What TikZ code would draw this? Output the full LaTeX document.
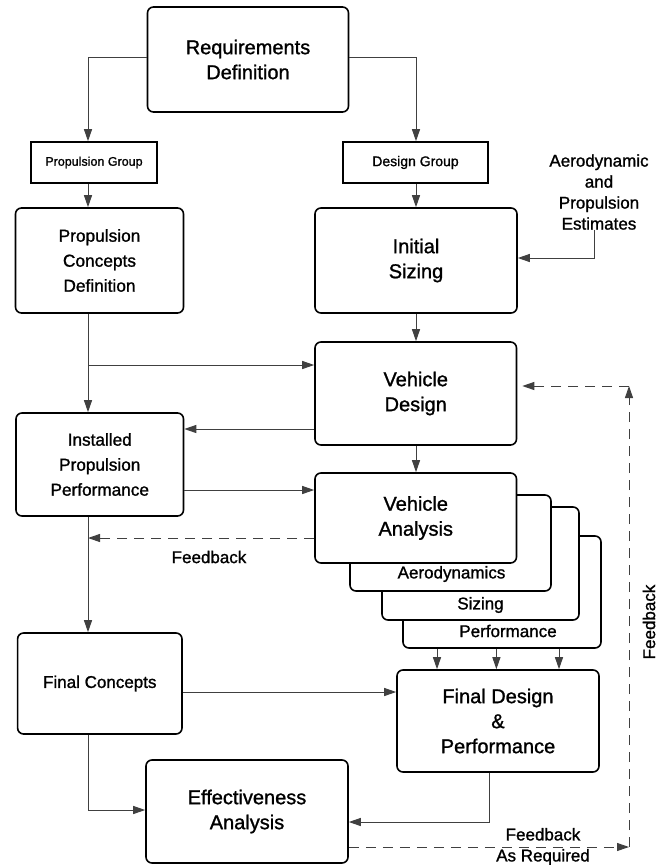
\documentclass[tikz,border=0pt]{standalone}
\usepackage{fontspec}
\setmainfont{Liberation Sans}[BoldFont=Liberation Sans, BoldFeatures={FakeBold=1.2}]
\usetikzlibrary{arrows.meta}
\begin{document}
\begin{tikzpicture}[x=1pt,y=-1pt,
  box/.style={draw=black, line width=1.6pt, rounded corners=6pt, fill=white, align=center, inner sep=0pt},
  sbox/.style={draw=black, line width=1.6pt, fill=white, inner sep=0pt, align=center},
  arr/.style={draw=black!75, line width=1pt, -{Triangle[length=12pt,width=8pt]}},
  darr/.style={arr, dash pattern=on 10pt off 7pt},
  ftwenty/.style={font=\bfseries\fontsize{20}{25}\selectfont},
  fseventeen/.style={font=\bfseries\fontsize{17.3}{25}\selectfont},
  lab/.style={font=\bfseries\fontsize{17}{21}\selectfont, align=center, inner sep=0pt}]
\fill[white] (0,0) rectangle (657,865);
\useasboundingbox (0,0) rectangle (657,865);
\coordinate (cL) at (88,0);
\coordinate (cR) at (416,0);
\coordinate (cF) at (629,386);

% boxes
\node[box, ftwenty, minimum width=201pt, minimum height=105pt] (req) at (248,59.5) {Requirements\\Definition};
\node[sbox, font=\bfseries\fontsize{12.5}{15}\selectfont, minimum width=126pt, minimum height=41pt] (pg) at (94,162.5) {Propulsion Group};
\node[sbox, font=\bfseries\fontsize{14}{17}\selectfont, minimum width=145pt, minimum height=41pt] (dg) at (415.5,162.5) {Design Group};
\node[box, fseventeen, minimum width=168pt, minimum height=105pt] (pcd) at (99.5,260.5) {Propulsion\\Concepts\\Definition};
\node[box, ftwenty, minimum width=202pt, minimum height=105pt] (is) at (416,260.5) {Initial\\Sizing};
\node[lab] (aero) at (599,192) {Aerodynamic\\and\\Propulsion\\Estimates};
\node[box, ftwenty, minimum width=201.5pt, minimum height=103pt] (vd) at (415.75,393.5) {Vehicle\\Design};
\node[box, font=\bfseries\fontsize{17.2}{25}\selectfont, minimum width=167.5pt, minimum height=103pt] (ipp) at (99.75,464.5) {Installed\\Propulsion\\Performance};

% stacked analysis boxes
\node[box, minimum width=198pt, minimum height=112pt] (perfbox) at (502,592) {};
\node[box, minimum width=197pt, minimum height=113pt] (sizbox) at (480.5,563.5) {};
\node[box, minimum width=201pt, minimum height=96pt] (aerobox) at (450.5,543) {};
\node[box, ftwenty, minimum width=201.5pt, minimum height=90pt] (va) at (415.75,518) {Vehicle\\Analysis};
\node[lab] (laero) at (451.5,574) {Aerodynamics};
\node[lab] (lsiz) at (480.5,605) {Sizing};
\node[lab] (lperf) at (508,631) {Performance};

\node[box, font=\bfseries\fontsize{17}{25}\selectfont, minimum width=164.4pt, minimum height=101pt] (fc) at (99.8,683.5) {Final Concepts};
\node[box, ftwenty, minimum width=202pt, minimum height=102pt] (fdp) at (498,721) {Final Design\\\&\\Performance};
\node[box, ftwenty, minimum width=202pt, minimum height=103pt] (ea) at (247,811.5) {Effectiveness\\Analysis};

% labels
\node[lab] (fb1) at (209,557) {Feedback};
\node[lab, rotate=90] (fb2) at (649,622) {Feedback};
\node[lab] (fb3) at (543,846.5) {Feedback\\As Required};

% connectors
\draw[arr] ([yshift=2.5pt]req.west) -| (pg.north -| cL);
\draw[arr] ([yshift=2.5pt]req.east) -| (dg.north -| cR);
\draw[arr] (pg.south -| cL) -- (pcd.north -| cL);
\draw[arr] (dg.south -| cR) -- (is.north -| cR);
\draw[arr] ([xshift=-5pt]aero.south) |- ([yshift=2.5pt]is.east);
\draw[arr] (is.south -| cR) -- (vd.north -| cR);
\draw[arr] (pcd.south -| cL) -- (ipp.north -| cL);
\draw[arr] (pcd.south -| cL) |- ([yshift=28.5pt]vd.west);
\draw[arr] ([yshift=-35.5pt]vd.west) coordinate (t1) -- (t1 -| ipp.east);
\draw[arr] (vd.south -| cR) -- (va.north -| cR);
\draw[arr] ([yshift=-25.5pt]ipp.east) coordinate (t2) -- (t2 -| va.west);
\draw[darr] ([yshift=-20pt]va.west) coordinate (t3) -- (t3 -| cL);
\draw[arr] (ipp.south -| cL) -- (fc.north -| cL);
\draw[arr] ([xshift=-65pt]perfbox.south) coordinate (t4) -- (t4 |- fdp.north);
\draw[arr] ([xshift=-5.6pt]perfbox.south) coordinate (t5) -- (t5 |- fdp.north);
\draw[arr] ([xshift=57pt]perfbox.south) coordinate (t6) -- (t6 |- fdp.north);
\draw[arr] ([yshift=-8.5pt]fc.east) coordinate (t7) -- (t7 -| fdp.west);
\draw[arr] (fc.south -| cL) |- ([yshift=1.5pt]ea.west);
\draw[arr] ([xshift=-9pt]fdp.south) |- ([yshift=-10.5pt]ea.east);
\draw[darr] ([yshift=-35.5pt]ea.east) coordinate (t8) -- (t8 -| cF);
\draw[darr] (t8 -| cF) -- (cF);
\draw[darr, shorten >=5pt] (cF) -- (cF -| vd.east);
\end{tikzpicture}
\end{document}
